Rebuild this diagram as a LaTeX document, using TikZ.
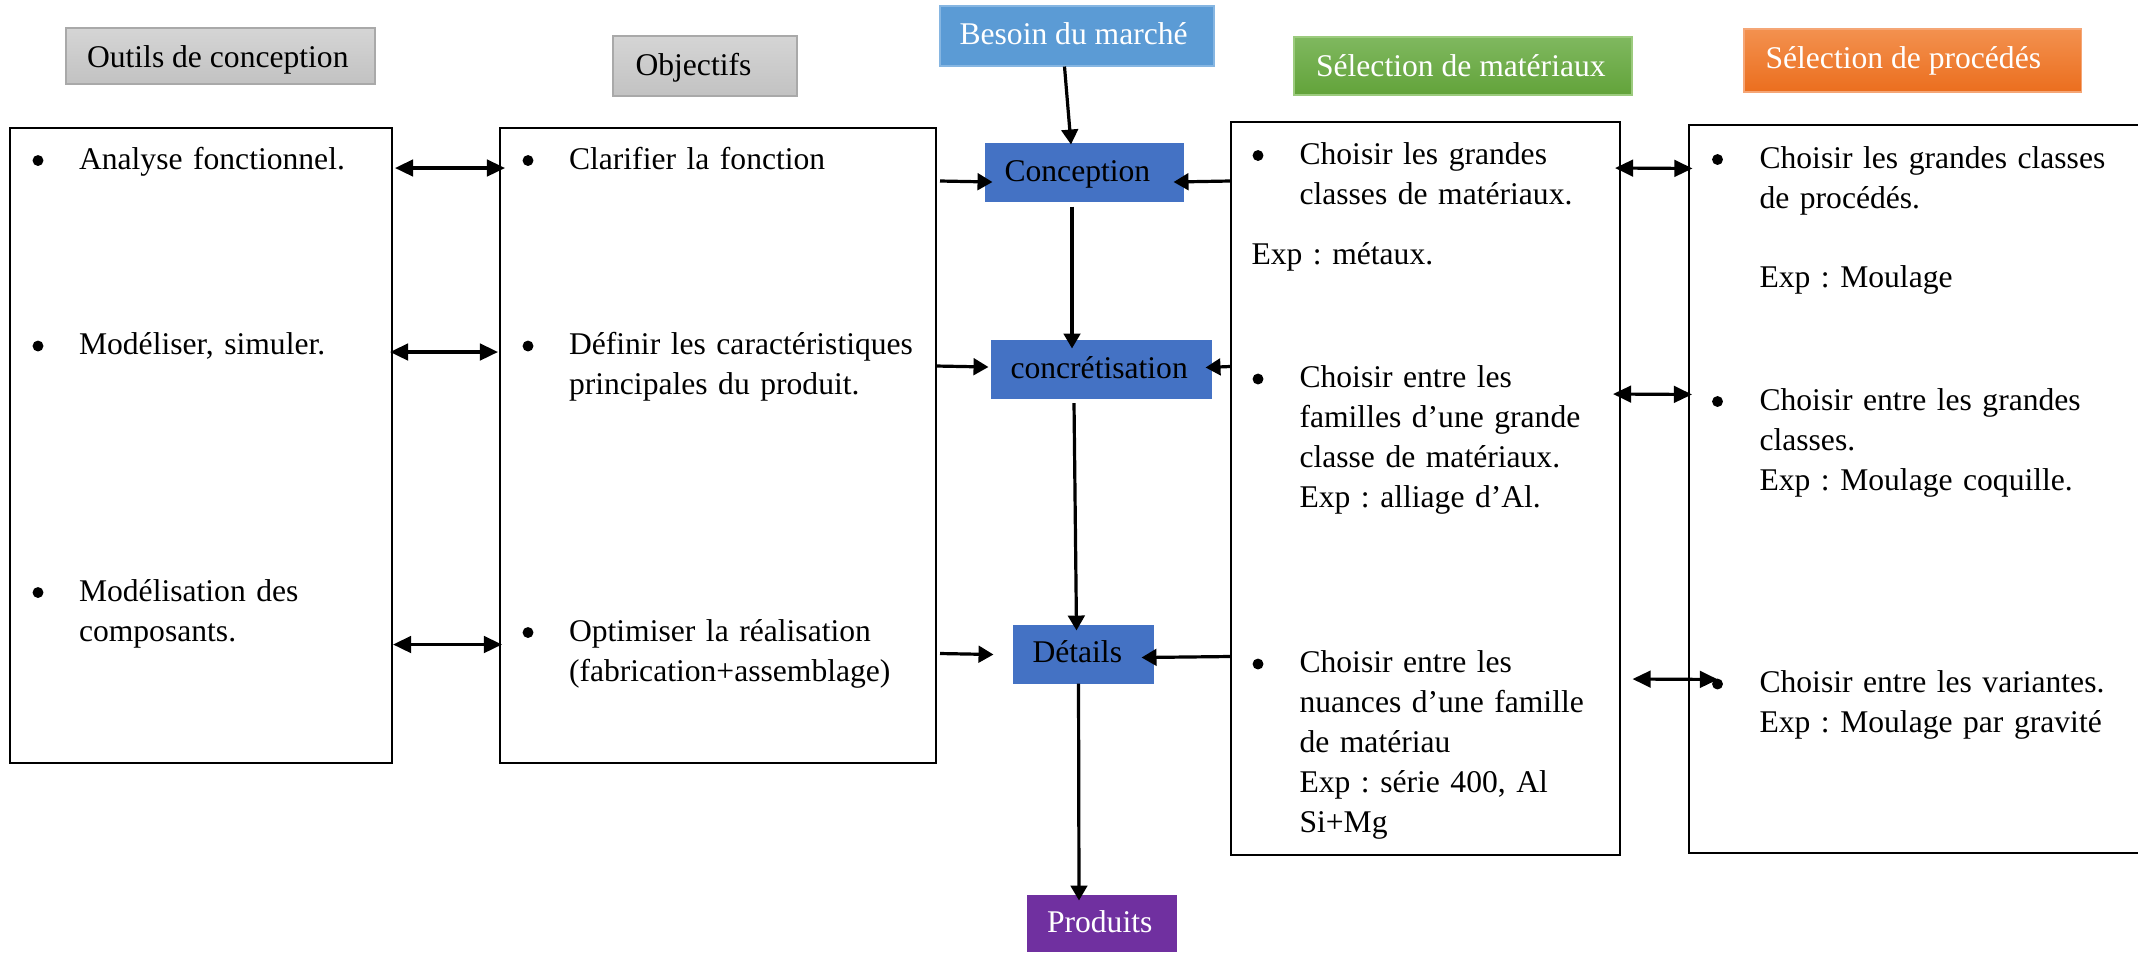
\documentclass[tikz,border=0pt]{standalone}
\usepackage{fontspec}
\setmainfont{Liberation Serif}
\usetikzlibrary{arrows.meta,fit,calc}

% header fills
\definecolor{grayT}{HTML}{D5D5D5}
\definecolor{grayB}{HTML}{C2C2C2}
\definecolor{grayE}{HTML}{A9A9A9}
\definecolor{greenT}{HTML}{7FB85F}
\definecolor{greenB}{HTML}{62A33A}
\definecolor{greenE}{HTML}{9CCB7E}
\definecolor{orangeT}{HTML}{F3914F}
\definecolor{orangeB}{HTML}{EB6E1E}
\definecolor{orangeE}{HTML}{F5A676}
\definecolor{besoin}{HTML}{5B9BD5}
\definecolor{besoinE}{HTML}{86B6E2}
% flow boxes
\definecolor{flowblue}{HTML}{4472C4}
\definecolor{prodpurple}{HTML}{7030A0}

\begin{document}
\frenchspacing
\begin{tikzpicture}[x=0.375pt,y=-0.375pt,
  every node/.style={font=\fontsize{11.85pt}{15pt}\selectfont},
  box/.style={draw, line width=0.75pt, inner sep=0pt},
  hdr/.style={inner sep=0pt, line width=0.4pt},
  flow/.style={inner sep=0pt, fill=flowblue},
  htxt/.style={anchor=base west, inner sep=0pt},
  txt/.style={anchor=base west, inner sep=0pt, text width=250pt, align=left},
  bul/.style={circle, fill, inner sep=0pt, minimum size=4.1pt},
  arr/.style={line width=1.2pt, -{Triangle[length=5.6pt,width=6.2pt]}},
  darr/.style={line width=1.2pt, {Triangle[length=6.8pt,width=6.2pt]}-{Triangle[length=6.8pt,width=6.2pt]}}]

\useasboundingbox (0,0) rectangle (2138,952);

% ---- column headers ----
\node[hdr, fit={(66,28)(375,84)}, top color=grayT, bottom color=grayB, draw=grayE] (hOut) {};
\node[htxt] (tOut) at (86.5,67) {Outils de conception};
\node[hdr, fit={(613,36)(797,96)}, top color=grayT, bottom color=grayB, draw=grayE] (hObj) {};
\node[htxt] (tObj) at (635,75) {Objectifs};
\node[hdr, fit={(940,6)(1214,66)}, fill=besoin, draw=besoinE] (hBes) {};
\node[htxt, text=white] (tBes) at (959,44.5) {Besoin du marché};
\node[hdr, fit={(1294,37)(1632,95)}, top color=greenT, bottom color=greenB, draw=greenE] (hMat) {};
\node[htxt, text=white] (tMat) at (1315.5,76.5) {Sélection de matériaux};
\node[hdr, fit={(1744,29)(2081,92)}, top color=orangeT, bottom color=orangeB, draw=orangeE] (hProc) {};
\node[htxt, text=white] (tProc) at (1765,68.5) {Sélection de procédés};

% ---- main boxes ----
\node[box, fit={(10,128)(392,763)}] (bOut) {};
\node[box, fit={(500,128)(936,763)}] (bObj) {};
\node[box, fit={(1231,122)(1620,855)}] (bMat) {};
\node[inner sep=0pt, fit={(1690,126)(2138,852)}] (bProc) {};
\draw[line width=0.75pt] (bProc.north east) -- (bProc.north west) -- (bProc.south west) -- (bProc.south east);

% ---- central flow ----
\node[flow, fit={(985,143)(1184,202)}] (fConc) {};
\node[htxt] (tConc) at (1004,181) {Conception};
\node[flow, fit={(991,340)(1212,399)}] (fConcr) {};
\node[htxt] (tConcr) at (1010,378.5) {concrétisation};
\node[flow, fit={(1013,625)(1154,684)}] (fDet) {};
\node[htxt] (tDet) at (1032,662) {Détails};
\node[flow, fit={(1027,895)(1177,952)}, fill=prodpurple] (fProd) {};
\node[htxt, text=white] (tProd) at (1046.5,932) {Produits};

% ---- outils de conception (bullets sit 8.5px above the baseline) ----
\node[bul] (b11) at (38,160.5) {};
\node[txt] (t11) at (78.5,169) {Analyse fonctionnel.};
\node[bul] (b12) at (38,346) {};
\node[txt] (t12) at (78.5,354.5) {Modéliser, simuler.};
\node[bul] (b13) at (38,592.5) {};
\node[txt] (t13) at (78.5,601) {Modélisation des\\composants.};

% ---- objectifs ----
\node[bul] (b21) at (528,160.5) {};
\node[txt] (t21) at (568.5,169) {Clarifier la fonction};
\node[bul] (b22) at (528,346) {};
\node[txt] (t22) at (568.5,354.5) {Définir les caractéristiques\\principales du produit.};
\node[bul] (b23) at (528,632.5) {};
\node[txt] (t23) at (568.5,641) {Optimiser la réalisation\\(fabrication+assemblage)};

% ---- sélection de matériaux ----
\node[bul] (b31) at (1258,155.5) {};
\node[txt] (t31) at (1299,164) {Choisir les grandes\\classes de matériaux.};
\node[txt] (e31) at (1251,264) {Exp : métaux.};
\node[bul] (b32) at (1258,379) {};
\node[txt] (t32) at (1299,387.5) {Choisir entre les\\familles d’une grande\\classe de matériaux.\\Exp : alliage d’Al.};
\node[bul] (b33) at (1258,664) {};
\node[txt] (t33) at (1299,672.5) {Choisir entre les\\nuances d’une famille\\de matériau\\Exp : série 400, Al\\Si+Mg};

% ---- sélection de procédés ----
\node[bul] (b41) at (1717.5,159.5) {};
\node[txt] (t41) at (1759,168) {Choisir les grandes classes\\de procédés.};
\node[txt] (e41) at (1759,287.5) {Exp : Moulage};
\node[bul] (b42) at (1717.5,401.5) {};
\node[txt] (t42) at (1759,410) {Choisir entre les grandes\\classes.\\Exp : Moulage coquille.};
\node[bul] (b43) at (1717.5,684) {};
\node[txt] (t43) at (1759,692.5) {Choisir entre les variantes.\\Exp : Moulage par gravité};

% ---- vertical flow arrows ----
\draw[arr] ($(hBes.south)+(-12.5,0)$) -- ($(fConc.north)+(-13.5,2)$);
\draw[arr] ($(fConc.south)+(-12.5,4)$) -- ($(fConcr.north)+(-29.5,9)$);
\draw[arr] ($(fConcr.south)+(-27.5,3.5)$) -- ($(fDet.north)+(-7,6)$);
\draw[arr] ($(fDet.south)+(-5,-1)$) -- ($(fProd.north)+(-23,6)$);

% ---- objectifs feeding the flow ----
\draw[arr] ($(bObj.north east)+(3,54)$) -- ($(fConc.west)+(8,9.5)$);
\draw[arr] ($(bObj.north east)+(-1,239)$) -- ($(fConcr.west)+(-2,-2.5)$);
\draw[arr] ($(bObj.north east)+(3,526.5)$) -- ($(fDet.west)+(-19,0)$);

% ---- materials feeding the flow ----
\draw[arr] ($(bMat.north west)+(0,60)$) -- ($(fConc.east)+(-11,9.5)$);
\draw[arr] ($(bMat.north west)+(0,245.5)$) -- ($(fConcr.east)+(-7,-2)$);
\draw[arr] ($(bMat.north west)+(0,535.5)$) -- ($(fDet.east)+(-13,3)$);

% ---- two-way links ----
\draw[darr] ($(bOut.north east)+(2,41)$) -- ($(bObj.north west)+(6,41)$);
\draw[darr] ($(bOut.north east)+(-3,225)$) -- ($(bObj.north west)+(-1,225)$);
\draw[darr] ($(bOut.north east)+(0,517.5)$) -- ($(bObj.north west)+(3,517.5)$);
\draw[darr] ($(bMat.north east)+(-6,47)$) -- ($(bProc.north west)+(3,43)$);
\draw[darr] ($(bMat.north east)+(-8,273)$) -- ($(bProc.north west)+(2.5,269)$);
\draw[darr] ($(bMat.north east)+(11.5,558)$) -- ($(bProc.north west)+(28.5,554)$);

\end{tikzpicture}
\end{document}
